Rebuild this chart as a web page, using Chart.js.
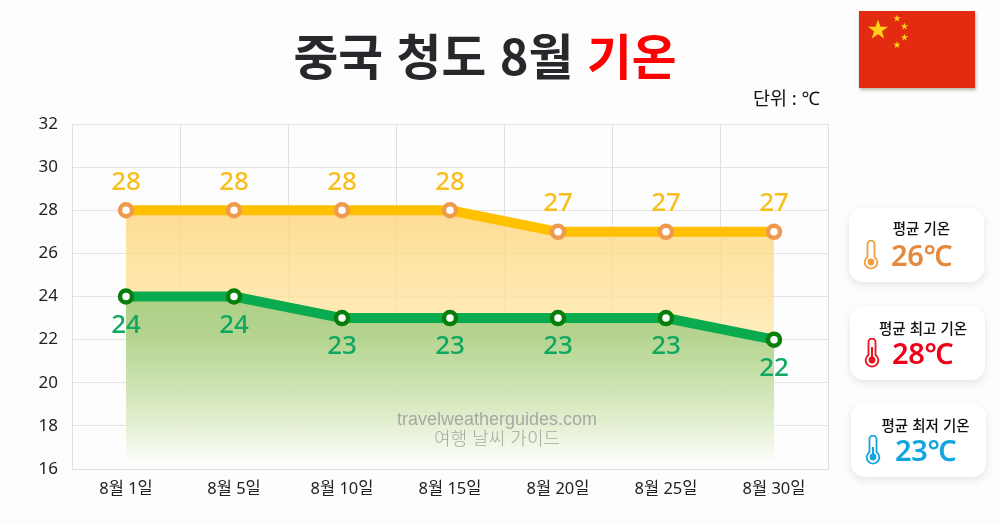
<!DOCTYPE html>
<html lang="ko"><head><meta charset="utf-8">
<script src="https://cdn.jsdelivr.net/npm/chart.js@4/dist/chart.umd.min.js"></script>
<style>
html,body{margin:0;padding:0;background:#fdfdfe;width:1000px;height:524px;overflow:hidden;font-family:"Noto Sans","Noto Sans CJK KR",sans-serif}
#c{position:absolute;left:0;top:0;width:1000px;height:524px}
.t{position:absolute;white-space:nowrap;line-height:1}
#title{left:0;width:970px;text-align:center;top:30px;font-size:48.7px;font-weight:700;color:#26282b;font-family:"Noto Sans CJK KR"}
#title span{color:#f00}
#unit{left:753px;top:89px;font-size:18.5px;color:#111}
.card{position:absolute;width:135px;height:74px;background:#fff;border-radius:14px;box-shadow:0 3px 8px rgba(0,0,0,.10)}
.card .h{position:absolute;top:13px;left:0;right:0;text-align:center;font-size:14.5px;font-weight:500;color:#111;white-space:nowrap;line-height:1;font-family:"Noto Sans CJK KR"}
.card .v{position:absolute;top:30px;font-size:29px;font-weight:600;line-height:1.15;white-space:nowrap;letter-spacing:-.3px}
.card svg{position:absolute;left:14px;top:32px}
#flag{position:absolute;left:859px;top:11px;width:116px;height:77px;box-shadow:1px 2px 3px rgba(120,110,70,.5)}
.wm{position:absolute;left:297px;width:400px;text-align:center;color:#a6a8a4;line-height:1;white-space:nowrap;z-index:2}
</style></head><body>
<canvas id="c" width="1000" height="524"></canvas>
<div class="t" id="title">중국 청도 8월 <span>기온</span></div>
<div class="t" id="unit">단위 : ℃</div>
<svg id="flag" viewBox="0 0 116 77"><defs><polygon id="s" points="0,-10.5 2.5,-3.2 10,-3.2 4,1.3 6.2,8.5 0,4.2 -6.2,8.5 -4,1.3 -10,-3.2 -2.5,-3.2"/></defs>
<rect width="116" height="77" fill="#e32b12"/>
<g fill="#fcd116"><use href="#s" transform="translate(19,19)"/>
<use href="#s" transform="translate(38,7.5) scale(.36)"/>
<use href="#s" transform="translate(45.5,15.5) scale(.36)"/>
<use href="#s" transform="translate(45.5,26.5) scale(.36)"/>
<use href="#s" transform="translate(38,34) scale(.36)"/></g></svg>
<div class="wm" style="top:410px;font-size:18px;font-family:'Liberation Sans'">travelweatherguides.com</div>
<div class="wm" style="top:428px;font-size:18px;font-weight:300;font-family:'Noto Sans CJK KR'">여행 날씨 가이드</div>
<div class="card" style="left:849px;top:208px"><div class="h" style="padding-left:10px">평균 기온</div>
<svg width="16" height="30" viewBox="0 0 16 30"><path d="M4.5 4a3.5 3.5 0 0 1 7 0v13a6.3 6.3 0 1 1-7 0z" fill="#fff" stroke="#f0a040" stroke-width="1.8"/><circle cx="8" cy="22" r="3.4" fill="#f0a040"/></svg>
<div class="v" style="left:42px;color:#e58a3c">26℃</div></div>
<div class="card" style="left:850px;top:306px"><div class="h" style="padding-left:11px;top:15px">평균 최고 기온</div>
<svg width="16" height="30" viewBox="0 0 16 30"><path d="M4.5 4a3.5 3.5 0 0 1 7 0v13a6.3 6.3 0 1 1-7 0z" fill="#fff" stroke="#e8101c" stroke-width="1.8"/><circle cx="8" cy="22" r="3.4" fill="#e8101c"/><rect x="7" y="9" width="2" height="12" fill="#e8101c"/></svg>
<div class="v" style="left:42px;color:#f00018">28℃</div></div>
<div class="card" style="left:851px;top:403px"><div class="h" style="padding-left:14px;top:15px">평균 최저 기온</div>
<svg width="16" height="30" viewBox="0 0 16 30"><path d="M4.5 4a3.5 3.5 0 0 1 7 0v13a6.3 6.3 0 1 1-7 0z" fill="#fff" stroke="#12a5e0" stroke-width="1.8"/><circle cx="8" cy="22" r="3.4" fill="#12a5e0"/><rect x="7" y="12" width="2" height="9" fill="#12a5e0"/></svg>
<div class="v" style="left:44px;color:#12a5e0">23℃</div></div>
<script>
const categories=["8월 1일","8월 5일","8월 10일","8월 15일","8월 20일","8월 25일","8월 30일"];
const highTemps=[28,28,28,28,27,27,27];
const lowTemps=[24,24,23,23,23,23,22];
const yTicks=[16,18,20,22,24,26,28,30,32];
const FONT='"Noto Sans","Noto Sans CJK KR"';
function grad(ctx,stops){const {chart}=ctx;const a=chart.chartArea;if(!a)return 'transparent';
  const g=chart.ctx.createLinearGradient(0,a.top,0,a.bottom);stops.forEach(s=>g.addColorStop(s[0],s[1]));return g;}
const labelPlugin={id:'valueLabels',afterDatasetsDraw(chart){const c=chart.ctx;
  chart.data.datasets.forEach((d,i)=>{chart.getDatasetMeta(i).data.forEach((p,j)=>{
    c.save();c.font='500 26px '+FONT;c.fillStyle=d.labelColor;c.textAlign='center';c.textBaseline='middle';
    c.fillText(d.data[j],p.x,p.y+d.labelOffset);c.restore();});});}};
new Chart(document.getElementById('c'),{type:'line',
 data:{labels:categories,datasets:[
  {label:'최저',data:lowTemps,order:1,borderColor:'#0aab4f',borderWidth:10,pointRadius:6,pointBorderWidth:4.5,pointHoverRadius:6,
   pointBorderColor:'#087f0a',pointBackgroundColor:'#fff',fill:'start',tension:0,labelColor:'#10a860',labelOffset:29,
   backgroundColor:c=>grad(c,[[0,'rgba(163,204,128,.85)'],[.5,'rgba(163,204,128,.9)'],[.625,'rgba(174,210,140,.9)'],[.75,'rgba(198,224,170,.9)'],[.875,'rgba(226,239,208,.92)'],[1,'rgba(255,255,255,.8)']])},
  {label:'최고',data:highTemps,order:2,borderColor:'#ffc000',borderWidth:10,pointRadius:6,pointBorderWidth:4.5,pointHoverRadius:6,
   pointBorderColor:'#ef9b4f',pointBackgroundColor:'#fff',fill:'start',tension:0,labelColor:'#f8bf1c',labelOffset:-28,
   backgroundColor:c=>grad(c,[[0,'rgba(253,212,120,.8)'],[.25,'rgba(253,212,120,.8)'],[.6,'rgba(255,232,170,.8)'],[1,'rgba(255,255,255,.3)']])}
 ]},
 options:{responsive:false,animation:false,devicePixelRatio:1,
  layout:{padding:{left:30,right:172,top:124,bottom:0}},
  plugins:{legend:{display:false},tooltip:{enabled:false}},
  scales:{
   x:{offset:true,grid:{color:'#dfdfdf',offset:true,tickLength:0},border:{color:'#dfdfdf'},
      ticks:{color:'#222',font:{family:FONT,size:16.5},padding:10,maxRotation:0},
      afterFit(s){s.height=55}},
   y:{min:16,max:32,afterBuildTicks(s){s.ticks=yTicks.map(v=>({value:v}))},grid:{color:'#e3e3e6',tickLength:0},border:{color:'#dfdfdf'},
      ticks:{color:'#222',font:{family:FONT,size:17},padding:14,autoSkip:false},
      afterFit(s){s.width=42}}
  }},
 plugins:[labelPlugin]});
</script></body></html>
